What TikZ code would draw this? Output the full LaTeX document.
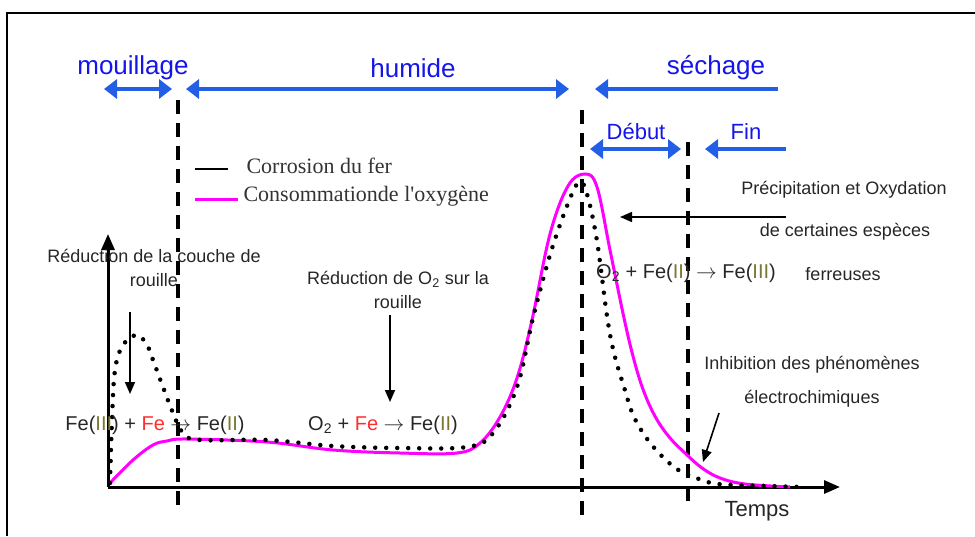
\documentclass[tikz,border=0pt]{standalone}
\usepackage{fontspec}
\setmainfont{Liberation Sans}
\newfontfamily\legendfont{Liberation Serif}
\usetikzlibrary{arrows.meta}
\definecolor{phaseblue}{RGB}{35,95,230}
\definecolor{labelblue}{RGB}{20,20,235}
\definecolor{oxymagenta}{RGB}{255,0,255}
\definecolor{ferred}{RGB}{255,45,45}
\definecolor{romanolive}{RGB}{120,120,50}
\newcommand{\romnum}[1]{{\color{romanolive}#1}}
\newcommand{\redfe}{{\color{ferred}Fe}}
\newcommand{\yields}{$\rightarrow$}

\tikzset{
  phase/.style={line width=4pt, draw=phaseblue, >={Triangle[length=13pt,width=19pt]}},
  phaselabel/.style={text=labelblue, font=\fontsize{26}{28}\selectfont},
  sublabel/.style={text=labelblue, font=\fontsize{22}{24}\selectfont},
  note/.style={text=black!85, font=\fontsize{18}{24}\selectfont, align=center},
  equation/.style={text=black!85, font=\fontsize{20}{24}\selectfont},
  pointer/.style={line width=1.6pt, >={Triangle[length=12pt,width=10pt]}},
  limit/.style={line width=3.5pt, dash pattern=on 14pt off 9pt},
  corrosion/.style={line width=4.5pt, line cap=round, dash pattern=on 0pt off 11pt},
  oxygen/.style={line width=3pt, draw=oxymagenta},
  axis/.style={line width=3pt, >={Triangle[length=16pt,width=13pt]}}
}

\begin{document}
\begin{tikzpicture}[x=1pt,y=-1pt]
\useasboundingbox (0,0) rectangle (975,536);

% frame
\draw[line width=2pt] (7,536) -- (7,13) -- (975,13);

% phases
\node[phaselabel] (mouil) at (133,68) {mouillage};
\node[phaselabel] (humid) at (413,68) {humide};
\node[phaselabel] (sech) at (716,68) {séchage};
\coordinate (mouilL) at (104,89);
\coordinate (mouilR) at (172,89);
\coordinate (humidL) at (186,89);
\coordinate (humidR) at (569,89);
\coordinate (sechL) at (595,89);
\coordinate (sechR) at (778,89);
\draw[phase,<->] (mouilL) -- (mouilR);
\draw[phase,<->] (humidL) -- (humidR);
\draw[phase,<-] (sechL) -- (sechR);

\node[sublabel] (debut) at (636,132) {Début};
\node[sublabel] (fin) at (746,132) {Fin};
\coordinate (debutL) at (590,149);
\coordinate (debutR) at (681,149);
\coordinate (finL) at (705,149);
\coordinate (finR) at (786,149);
\draw[phase,<->] (debutL) -- (debutR);
\draw[phase,<-] (finL) -- (finR);

% phase limits
\draw[limit] (178,100) -- (178,512);
\draw[limit] (582,110) -- (582,515);
\draw[limit] (688,142) -- (688,510);

% axes
\coordinate (O) at (108,487);
\coordinate (ytop) at (108,234);
\coordinate (xend) at (840,487);
\draw[axis,->] (O) -- (ytop);
\draw[axis,->] (O) -- (xend);
\node[equation, font=\fontsize{22}{24}\selectfont] (temps) at (757,511) {Temps};

% legend
\coordinate (legA1) at (195,169);
\coordinate (legA2) at (228,169);
\coordinate (legB1) at (195,199);
\coordinate (legB2) at (238,199);
\draw[line width=2pt] (legA1) -- (legA2);
\draw[oxygen] (legB1) -- (legB2);
\node[anchor=west, font=\legendfont\fontsize{22}{24}\selectfont, text=black!80] (legA) at (243,166) {Corrosion du fer};
\node[anchor=west, font=\legendfont\fontsize{22}{24}\selectfont, text=black!80] (legB) at (240,196) {Consommationde l'oxygène};

% curves
\draw[oxygen] plot[smooth, tension=0.6] coordinates {(110,483) (133,460) (153,445) (167,441) (187,439) (267,442) (333,450) (400,453) (457,453) (480,443) (500,417) (517,378) (532,320) (550,234) (568,186) (585,174) (597,187) (610,250) (624,318) (634,360) (644,392) (656,418) (670,438) (686,454) (702,468) (720,478) (745,484) (790,487)};
\draw[corrosion] plot[smooth, tension=0.6] coordinates {(110,483) (112,420) (115,370) (123,345) (137,335) (147,345) (153,360) (163,387) (173,413) (183,433) (200,440) (267,440) (333,446) (400,448) (467,447) (493,433) (517,387) (533,318) (550,255) (567,206) (579,182) (587,194) (597,241) (607,316) (614,353) (624,387) (634,417) (651,444) (674,467) (694,477) (718,484) (768,486) (800,487)};

% left annotations
\node[note] (couche) at (154,268) {Réduction de la couche de\\rouille};
\node[equation] (eqA) at (155,425) {Fe(\romnum{III}) + \redfe{} \yields{} Fe(\romnum{II})};
\coordinate (coucheT) at (130,312);
\coordinate (coucheB) at (130,394);
\draw[pointer,->] (coucheT) -- (coucheB);

\node[note] (surface) at (398,290) {Réduction de O\textsubscript{2} sur la\\rouille};
\node[equation] (eqB) at (383,425) {O\textsubscript{2} + \redfe{} \yields{} Fe(\romnum{II})};
\coordinate (surfaceT) at (390,315);
\coordinate (surfaceB) at (390,402);
\draw[pointer,->] (surfaceT) -- (surfaceB);

% right annotations
\node[note] (precip) at (844,190) {Précipitation et Oxydation};
\node[note] (especes) at (845,232) {de certaines espèces};
\node[equation] (eqC) at (686,273) {O\textsubscript{2} + Fe(\romnum{II}) \yields{} Fe(\romnum{III})};
\node[note] (ferreuses) at (843,274) {ferreuses};
\coordinate (precipR) at (786,217);
\coordinate (precipL) at (620,217);
\draw[pointer,->] (precipR) -- (precipL);

\node[note, font=\fontsize{18}{34}\selectfont] (inhib) at (812,382) {Inhibition des phénomènes\\électrochimiques};
\coordinate (inhibT) at (719,413);
\coordinate (inhibB) at (703,462);
\draw[pointer,->] (inhibT) -- (inhibB);
\end{tikzpicture}
\end{document}
